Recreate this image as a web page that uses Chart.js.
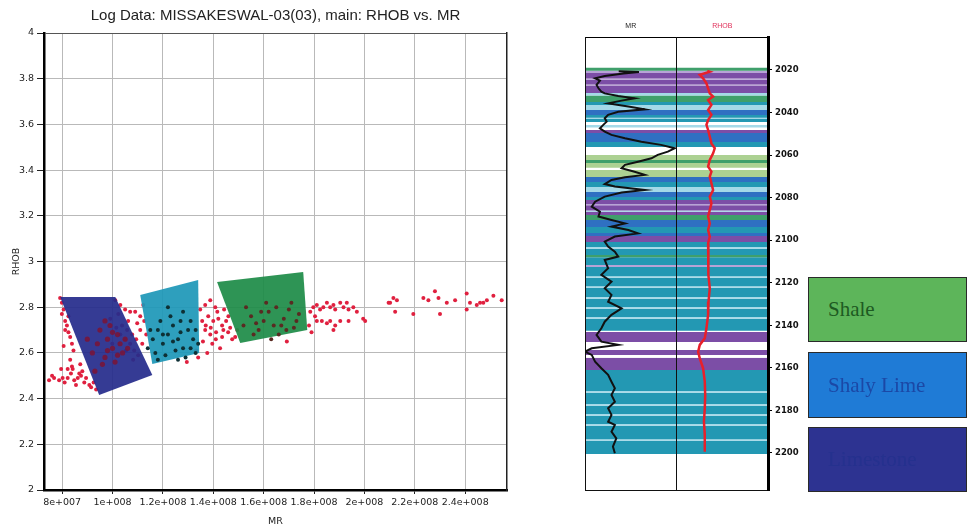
<!DOCTYPE html>
<html>
<head>
<meta charset="utf-8">
<script src="https://cdn.jsdelivr.net/npm/chart.js@4.4.1/dist/chart.umd.min.js"></script>
<style>
  html, body { margin: 0; padding: 0; background: #fff; width: 967px; height: 530px; overflow: hidden; position: relative; }
  #xplot { position: absolute; left: 0; top: 0; }
  #track { position: absolute; left: 560px; top: 0; }
  .key { position: absolute; left: 808px; width: 159px; box-sizing: border-box; border: 1px solid #2a2a2a;
         font-family: "Liberation Serif", "Times New Roman", serif; font-size: 21px; padding-left: 19px;
         display: flex; align-items: center; }
</style>
</head>
<body>
<canvas id="xplot" width="525" height="530"></canvas>
<canvas id="track" width="250" height="530"></canvas>
<div class="key" style="top:277px;height:65px;background:#5db55a;color:#1d5a22;">Shale</div>
<div class="key" style="top:352px;height:66px;background:#1f7bd6;color:#1b48a6;">Shaly Lime</div>
<div class="key" style="top:427px;height:65px;background:#2d3391;color:#25318e;">Limestone</div>
<script>
// ---------- crossplot data (MR in millions, RHOB in g/cc) ----------
const MR_UNIT = 1e6;
const mrTicks = [80, 100, 120, 140, 160, 180, 200, 220, 240];
const rhobTicks = [2, 2.2, 2.4, 2.6, 2.8, 3, 3.2, 3.4, 3.6, 3.8, 4];

// samples plotted in red
const mrRed = [
  74.8, 76.8, 78.8, 80.2, 82.2, 83.5, 84.8, 86.2, 86.8, 87.5, 88.8, 89.5, 90.8, 91.5, 82.2, 84.2, 87.2, 79.6, 76.0, 81.0, 85.5, 88.0, 92.5, 93.5,
  79.2, 79.9, 80.6, 81.2, 81.9, 82.5, 83.2, 81.2, 82.5, 83.9, 84.5, 83.2, 83.9, 79.9, 80.6,
  101.1, 103.1, 105.0, 107.0, 109.0, 111.0, 106.2, 109.8, 102.3, 103.8, 105.8, 107.8, 109.4, 105.0, 107.0, 108.6, 110.2, 111.8, 111.0, 112.6, 113.4, 103.1, 101.5, 105.4, 108.2, 112.2, 99.1, 99.9,
  134.8, 136.8, 138.8, 140.8, 135.6, 138.0, 140.0, 142.0, 143.5, 145.1, 136.8, 138.8, 141.1, 143.5, 145.9, 147.5, 135.9, 139.6, 142.7, 146.7, 148.7, 137.6, 134.0, 129.5, 141.6, 144.3, 133.2, 137.0, 144.0, 139.0, 146.0, 141.0, 149.5,
  179.7, 181.1, 182.4, 183.7, 185.1, 186.4, 187.7, 188.4, 190.4, 191.7, 193.0, 193.7, 195.6, 197.0, 181.1, 183.1, 185.1, 186.4, 188.4, 187.7, 190.4, 193.7, 200.3, 180.4,
  209.6, 210.2, 211.5, 212.9, 212.2, 219.4, 223.4, 225.4, 228.0, 229.4, 230.0, 232.7, 236.0, 240.6, 240.6, 241.9, 244.6, 245.9, 247.2, 248.6, 251.2, 254.5, 199.5, 169.2, 178.0, 178.5, 179.0
];
const rhobRed = [
  2.48, 2.49, 2.48, 2.49, 2.49, 2.51, 2.48, 2.49, 2.51, 2.50, 2.47, 2.49, 2.46, 2.45, 2.53, 2.53, 2.55, 2.53, 2.50, 2.47, 2.46, 2.52, 2.47, 2.44,
  2.84, 2.82, 2.79, 2.74, 2.72, 2.69, 2.67, 2.70, 2.76, 2.64, 2.61, 2.57, 2.54, 2.77, 2.63,
  2.83, 2.81, 2.79, 2.78, 2.78, 2.76, 2.74, 2.73, 2.77, 2.72, 2.70, 2.68, 2.66, 2.66, 2.64, 2.61, 2.59, 2.64, 2.70, 2.74, 2.68, 2.68, 2.71, 2.61, 2.57, 2.81, 2.75, 2.64,
  2.79, 2.81, 2.83, 2.80, 2.74, 2.76, 2.74, 2.75, 2.72, 2.74, 2.70, 2.68, 2.69, 2.67, 2.69, 2.66, 2.65, 2.64, 2.62, 2.71, 2.67, 2.60, 2.58, 2.56, 2.78, 2.79, 2.61, 2.72, 2.70, 2.71, 2.76, 2.66, 2.70,
  2.80, 2.81, 2.79, 2.80, 2.82, 2.80, 2.81, 2.79, 2.82, 2.80, 2.82, 2.79, 2.80, 2.78, 2.74, 2.74, 2.73, 2.74, 2.72, 2.70, 2.74, 2.74, 2.74, 2.76,
  2.82, 2.82, 2.84, 2.83, 2.78, 2.77, 2.84, 2.83, 2.87, 2.84, 2.77, 2.82, 2.83, 2.86, 2.79, 2.82, 2.81, 2.82, 2.82, 2.83, 2.85, 2.83, 2.75, 2.65, 2.72, 2.78, 2.69
];

// samples lying inside each facies zone
const mrInLime   = [95, 98, 100, 97, 102, 94, 99, 104, 96, 101, 103, 105, 100, 98, 102, 92, 90, 93, 106, 97];
const rhobInLime = [2.70, 2.66, 2.62, 2.58, 2.68, 2.64, 2.72, 2.60, 2.55, 2.56, 2.64, 2.66, 2.69, 2.61, 2.59, 2.60, 2.66, 2.52, 2.62, 2.74];
const mrInShaly   = [114, 116, 118, 120, 122, 124, 126, 128, 130, 132, 134, 117, 121, 125, 129, 133, 119, 123, 127, 131, 115, 127, 131, 124, 120, 128, 122, 133, 118, 126];
const rhobInShaly = [2.62, 2.66, 2.70, 2.64, 2.68, 2.72, 2.66, 2.62, 2.70, 2.66, 2.64, 2.60, 2.59, 2.61, 2.58, 2.60, 2.74, 2.76, 2.74, 2.74, 2.70, 2.69, 2.62, 2.65, 2.68, 2.78, 2.80, 2.70, 2.57, 2.57];
const mrInShale   = [152, 155, 158, 160, 162, 164, 166, 168, 170, 172, 174, 156, 161, 165, 169, 173, 159, 163, 167, 171, 153, 157];
const rhobInShale = [2.72, 2.76, 2.70, 2.74, 2.78, 2.72, 2.68, 2.75, 2.79, 2.71, 2.77, 2.68, 2.82, 2.80, 2.70, 2.74, 2.78, 2.66, 2.72, 2.82, 2.80, 2.73];

// facies zone outlines
const limeZoneMR    = [79.2, 101.1, 115.8, 94.7];
const limeZoneRHOB  = [2.845, 2.845, 2.503, 2.416];
const shalyZoneMR   = [111.0, 134.0, 134.4, 115.8];
const shalyZoneRHOB = [2.853, 2.919, 2.600, 2.551];
const shaleZoneMR   = [141.5, 175.7, 177.3, 150.7];
const shaleZoneRHOB = [2.910, 2.954, 2.700, 2.643];

// ---------- well log data ----------
const depthTicks = [2020, 2040, 2060, 2080, 2100, 2120, 2140, 2160, 2180, 2200];
const mrDepth = [2020.6, 2021.0, 2021.6, 2022.8, 2023.9, 2025.0, 2027.0, 2028.6, 2030.2, 2031.0, 2032.2, 2033.3, 2034.4, 2035.7, 2037.2, 2038.5, 2039.6, 2041.1, 2042.7, 2044.3, 2045.8, 2047.4, 2049.0, 2050.5, 2052.1, 2053.7, 2055.2, 2056.8, 2058.4, 2059.9, 2061.5, 2063.1, 2064.6, 2066.2, 2067.8, 2069.3, 2070.4, 2071.7, 2073.6, 2074.8, 2076.4, 2077.6, 2079.5, 2081.9, 2084.2, 2086.6, 2088.9, 2090.5, 2092.1, 2093.6, 2095.2, 2096.8, 2098.3, 2100.7, 2103.0, 2105.4, 2107.7, 2109.3, 2113.2, 2116.3, 2119.5, 2122.6, 2125.7, 2128.9, 2132.0, 2135.1, 2138.3, 2141.4, 2144.5, 2147.7, 2149.2, 2150.8, 2152.4, 2153.9, 2157.1, 2160.2, 2163.3, 2166.5, 2169.6, 2172.7, 2175.9, 2179.0, 2182.1, 2185.3, 2186.8, 2190.0, 2193.1, 2197.0, 2200.1];
const mrLog   = [130, 172, 140, 101, 81, 91, 84, 88, 94, 101, 129, 163, 136, 108, 150, 184, 129, 108, 101, 105, 98, 91, 101, 115, 143, 177, 218, 246, 232, 211, 198, 170, 143, 136, 163, 184, 143, 115, 101, 122, 184, 136, 101, 81, 74, 91, 88, 115, 143, 115, 150, 170, 122, 101, 108, 122, 129, 101, 108, 94, 115, 101, 115, 108, 136, 115, 101, 94, 84, 94, 129, 74, 60, 74, 81, 94, 108, 115, 122, 115, 122, 108, 115, 108, 122, 115, 125, 118, 122];
const rhobDepth = [2020.4, 2020.8, 2022.3, 2023.9, 2026.3, 2028.6, 2031.0, 2032.5, 2034.1, 2036.4, 2038.8, 2041.1, 2043.5, 2045.8, 2048.2, 2051.3, 2054.5, 2056.8, 2059.2, 2062.3, 2065.4, 2067.8, 2070.1, 2073.3, 2076.4, 2079.5, 2082.7, 2085.8, 2088.9, 2092.1, 2095.2, 2098.3, 2101.5, 2105.4, 2108.5, 2116.3, 2122.6, 2128.9, 2135.1, 2141.4, 2146.1, 2149.2, 2152.4, 2155.5, 2160.2, 2166.5, 2172.7, 2179.0, 2185.3, 2191.5, 2199.4];
const rhobLog   = [2.74, 2.80, 2.56, 2.64, 2.72, 2.76, 2.80, 2.88, 2.76, 2.84, 2.76, 2.84, 2.76, 2.72, 2.76, 2.80, 2.84, 2.92, 2.88, 2.80, 2.76, 2.84, 2.80, 2.84, 2.88, 2.80, 2.84, 2.80, 2.76, 2.80, 2.76, 2.80, 2.76, 2.77, 2.76, 2.77, 2.80, 2.77, 2.76, 2.72, 2.68, 2.56, 2.52, 2.56, 2.64, 2.68, 2.69, 2.68, 2.66, 2.68, 2.68];

// facies column: boundaries (depth) and the facies code of each interval
const bandTops = [2019.0, 2020.4, 2021.4, 2024.0, 2024.6, 2026.8, 2027.3, 2030.8, 2032.0, 2035.0, 2036.4, 2038.8, 2041.1, 2042.5, 2043.0, 2044.4, 2045.8, 2047.0, 2048.2, 2049.6, 2053.8, 2056.2, 2059.9, 2062.3, 2063.7, 2066.0, 2067.0, 2070.3, 2072.6, 2075.0, 2077.3, 2079.7, 2081.1, 2083.0, 2083.6, 2086.0, 2086.6, 2088.1, 2090.5, 2093.8, 2096.6, 2098.0, 2100.8, 2103.2, 2104.0, 2106.9, 2108.0, 2111.6, 2112.6, 2116.9, 2117.7, 2121.6, 2122.4, 2126.7, 2127.5, 2131.4, 2132.2, 2136.1, 2136.9, 2142.6, 2143.1, 2147.8, 2151.6, 2153.9, 2155.3, 2161.0, 2170.9, 2171.7, 2177.0, 2177.8, 2181.7, 2182.5, 2186.4, 2187.2, 2193.5, 2194.3, 2200.5];
const bandCodes = ['G', 'L', 'P', 'L', 'P', 'L', 'P', 'C', 'G', 'T', 'C', 'B', 'T', 'C', 'T', 'W', 'C', 'W', 'P', 'B', 'T', 'W', 'Y', 'G', 'Y', 'W', 'Y', 'B', 'T', 'C', 'B', 'T', 'P', 'L', 'P', 'C', 'P', 'G', 'B', 'T', 'B', 'P', 'T', 'C', 'T', 'G', 'T', 'L', 'T', 'C', 'T', 'C', 'T', 'C', 'T', 'C', 'T', 'C', 'T', 'W', 'P', 'W', 'P', 'W', 'P', 'T', 'C', 'T', 'C', 'T', 'C', 'T', 'C', 'T', 'C', 'T'];

// ---------- styling ----------
const FACIES_COLOR = { G: '#3f9f6b', Y: '#acd192', P: '#7c4ea6', L: '#b7a3d6', T: '#2398b3', B: '#2f70c2', C: '#a4d9e8', W: '#ffffff' };
const SANS = '"DejaVu Sans", "Liberation Sans", sans-serif';
Chart.defaults.font.family = SANS;
Chart.defaults.color = '#222';

const toPoints = (xs, ys, k = 1) => xs.map((x, i) => ({ x: x * k, y: ys[i] }));
const closedShape = (xs, ys, k) => { const p = toPoints(xs, ys, k); p.push(p[0]); return p; };

function sciLabel(v) {
  const e = Math.floor(Math.log10(v) + 1e-9);
  const m = +(v / Math.pow(10, e)).toFixed(2);
  return m + 'e+' + String(e).padStart(3, '0');
}

function zone(label, xs, ys, color) {
  return { type: 'line', label, data: closedShape(xs, ys, MR_UNIT), fill: 'shape', backgroundColor: color,
           borderColor: 'rgba(0,0,0,0)', borderWidth: 0, pointRadius: 0, tension: 0, order: 1 };
}
function cloud(label, xs, ys, color, r, order) {
  return { type: 'scatter', label, data: toPoints(xs, ys, MR_UNIT), backgroundColor: color, borderWidth: 0,
           pointRadius: r, pointHoverRadius: r, order };
}

// ---------- RHOB vs MR crossplot ----------
new Chart(document.getElementById('xplot'), {
  type: 'scatter',
  data: {
    datasets: [
      cloud('Limestone samples', mrInLime, rhobInLime, 'rgba(128,18,48,0.8)', 2.6, 0),
      cloud('Shaly Lime samples', mrInShaly, rhobInShaly, '#0e3035', 2.0, 0),
      cloud('Shale samples', mrInShale, rhobInShale, '#5a2a22', 2.0, 0),
      zone('Limestone', limeZoneMR, limeZoneRHOB, 'rgba(38,44,140,0.93)'),
      zone('Shaly Lime', shalyZoneMR, shalyZoneRHOB, 'rgba(30,152,184,0.93)'),
      zone('Shale', shaleZoneMR, shaleZoneRHOB, 'rgba(30,140,72,0.93)'),
      cloud('RHOB vs MR', mrRed, rhobRed, '#e0203f', 2.0, 2)
    ]
  },
  options: {
    responsive: false, animation: false, devicePixelRatio: 1,
    layout: { padding: { left: 0, right: 18, top: 0, bottom: 0 } },
    plugins: {
      legend: { display: false }, tooltip: { enabled: false },
      title: { display: true, fullSize: false, text: 'Log Data: MISSAKESWAL-03(03), main: RHOB vs. MR', color: '#222',
               font: { family: '"Liberation Sans", Arial, sans-serif', size: 15, weight: 'normal' }, padding: { top: 7, bottom: 8 } }
    },
    scales: {
      x: {
        type: 'linear', position: 'bottom', min: 72.8e6, max: 256.6e6,
        afterBuildTicks: s => { s.ticks = mrTicks.map(v => ({ value: v * MR_UNIT })); },
        afterFit: s => { s.height = 40; },
        ticks: { autoSkip: false, maxRotation: 0, minRotation: 0, font: { size: 9.5 }, color: '#222', padding: 3, callback: v => sciLabel(v) },
        grid: { color: '#b9b9b9', lineWidth: 1, tickColor: '#222', tickLength: 4 },
        border: { display: true, color: '#000', width: 2.5 },
        title: { display: true, text: 'MR', font: { size: 9.5 }, color: '#222', padding: { top: 0, bottom: 3 } }
      },
      y: {
        type: 'linear', position: 'left', min: 2, max: 4,
        afterBuildTicks: s => { s.ticks = rhobTicks.map(v => ({ value: v })); },
        afterFit: s => { s.width = 44; },
        ticks: { font: { size: 9.5 }, color: '#222', padding: 3, callback: v => String(+v.toFixed(1)) },
        grid: { color: c => (c.tick && c.tick.value === 4 ? '#555' : '#b9b9b9'), lineWidth: 1, tickColor: '#222', tickLength: 7 },
        border: { display: true, color: '#000', width: 2.5 },
        title: { display: true, text: 'RHOB', font: { size: 9.5 }, color: '#222', padding: { top: 11, bottom: 0 } }
      },
      yFrame: {
        type: 'linear', position: 'right', afterFit: s => { s.width = 0; },
        ticks: { display: false }, grid: { display: false },
        border: { display: true, color: '#222', width: 1.5 }
      }
    }
  }
});

// ---------- MR / RHOB log tracks with facies column ----------
const bandSets = bandCodes.map((code, i) => ({
  type: 'line', label: 'facies ' + code, xAxisID: 'xB', yAxisID: 'yD',
  data: [{ x: 0, y: bandTops[i] }, { x: 2, y: bandTops[i] }, { x: 2, y: bandTops[i + 1] }, { x: 0, y: bandTops[i + 1] }],
  fill: 'shape', backgroundColor: FACIES_COLOR[code], borderColor: 'rgba(0,0,0,0)', borderWidth: 0, pointRadius: 0, order: 2
}));

const trackTitleFont = { family: '"Liberation Sans", Arial, sans-serif', size: 7 };

new Chart(document.getElementById('track'), {
  type: 'line',
  data: {
    datasets: [
      { label: 'MR', xAxisID: 'xMR', yAxisID: 'yD', data: mrDepth.map((d, i) => ({ x: mrLog[i] * MR_UNIT, y: d })),
        borderColor: '#111', borderWidth: 2, pointRadius: 0, tension: 0, fill: false, order: 0 },
      { label: 'RHOB', xAxisID: 'xRH', yAxisID: 'yD', data: rhobDepth.map((d, i) => ({ x: rhobLog[i], y: d })),
        borderColor: '#e8202a', borderWidth: 2.5, pointRadius: 0, tension: 0, fill: false, order: 0 },
      ...bandSets
    ]
  },
  options: {
    responsive: false, animation: false, devicePixelRatio: 1,
    layout: { padding: { left: 25, right: 0, top: 0, bottom: 0 } },
    plugins: { legend: { display: false }, tooltip: { enabled: false } },
    scales: {
      // top boxes are laid out last-declared first, so the RHOB track is declared before MR
      xRH: {
        type: 'linear', position: 'top', stack: 'tracks', stackWeight: 1, min: 2, max: 4.2,
        afterFit: s => { s.height = 37; },
        ticks: { display: false }, grid: { display: false },
        border: { display: true, color: '#000', width: 1, z: 1 },
        title: { display: true, text: 'RHOB', color: '#e0305a', font: trackTitleFont, padding: { top: 22, bottom: 0 } }
      },
      xMR: {
        type: 'linear', position: 'top', stack: 'tracks', stackWeight: 1, min: 60e6, max: 250e6,
        afterFit: s => { s.height = 37; },
        ticks: { display: false }, grid: { display: false },
        border: { display: true, color: '#000', width: 1, z: 1 },
        title: { display: true, text: 'MR', color: '#222', font: trackTitleFont, padding: { top: 22, bottom: 0 } }
      },
      xB: {
        type: 'linear', position: 'bottom', min: 0, max: 2,
        afterBuildTicks: s => { s.ticks = [0, 1, 2].map(v => ({ value: v })); },
        afterFit: s => { s.height = 40; },
        ticks: { display: false },
        grid: { color: '#111', lineWidth: 1, drawTicks: false, z: 1 },
        border: { display: true, color: '#111', width: 1, z: 1 }
      },
      yD: {
        type: 'linear', position: 'right', reverse: true, min: 2004.5, max: 2217.4,
        afterBuildTicks: s => { s.ticks = depthTicks.map(v => ({ value: v })); },
        afterFit: s => { s.width = 42; },
        ticks: { font: { size: 8.5, weight: 'bold' }, color: '#111', padding: 3, callback: v => String(v) },
        grid: { drawOnChartArea: false, color: '#000', tickLength: 4 },
        border: { display: true, color: '#000', width: 3, z: 1 }
      }
    }
  }
});
</script>
</body>
</html>
